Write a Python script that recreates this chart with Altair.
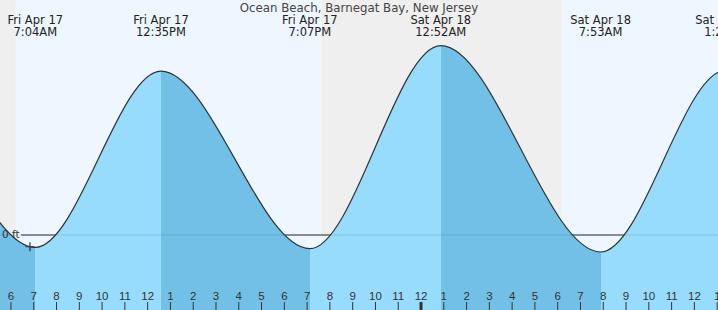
import altair as alt
import pandas as pd

TITLE = "Ocean Beach, Barnegat Bay, New Jersey"

# Tide extremes (day offset from Fri Apr 17, local time, height in ft)
ext_day = [-1, 0, 0, 0, 0, 1, 1, 1, 1]
ext_time = ["6:06PM", "12:12AM", "7:04AM", "12:35PM", "7:07PM", "12:52AM", "7:53AM", "1:22PM", "8:00PM"]
ext_ft = [-0.20, 2.72, -0.19, 2.51, -0.21, 2.90, -0.26, 2.52, -0.15]
ext_date = ["", "", "Fri Apr 17", "Fri Apr 17", "Fri Apr 17", "Sat Apr 18", "Sat Apr 18", "Sat Apr 18", ""]

# Day / night shading
shade_kind = ["night", "day", "night", "day"]
shade_start = [(0, "5:00AM"), (0, "6:13AM"), (0, "7:37PM"), (1, "6:12AM")]
shade_end = [(0, "6:13AM"), (0, "7:37PM"), (1, "6:12AM"), (1, "2:00PM")]

# Current-time marker
now_day, now_time, now_ft = 0, "6:50AM", -0.18

# Hour ticks along the bottom
tick_hours = list(range(6, 38))
tick_labels = [str((h - 1) % 12 + 1) for h in tick_hours]

NIGHT = "#efefef"
DAY = "#eef7ff"
RISE = "#97dcfd"
FALL = "#72c0e5"
INK = "#333333"
FONT = "DejaVu Sans"

W, H = 718, 310
X0, X1 = 5.518, 5.518 + W / 22.78
YMIN, YMAX = -75 / 65.3, 235 / 65.3


def to_h(day, t):
    hm, ap = t[:-2], t[-2:]
    hh, mm = map(int, hm.split(":"))
    hh = hh % 12 + (12 if ap == "PM" else 0)
    return day * 24 + hh + mm / 60


ext_h = [to_h(d, t) for d, t in zip(ext_day, ext_time)]
tide = pd.DataFrame({"h": ext_h, "ft": ext_ft})
events = pd.DataFrame({"h": ext_h, "date": ext_date, "time": ext_time})
events = events[events["date"] != ""]

shade = pd.DataFrame({
    "s": [to_h(d, t) for d, t in shade_start],
    "e": [to_h(d, t) for d, t in shade_end],
    "kind": shade_kind,
})

ticks = pd.DataFrame({
    "h": tick_hours,
    "lab": tick_labels,
    "w": [3 if h % 24 == 0 else 1 for h in tick_hours],
})

# gradient with hard stops: rising = light, falling = darker
hmin, hmax = ext_h[0], ext_h[-1]
stops = []
for i in range(len(ext_h) - 1):
    col = RISE if ext_ft[i + 1] > ext_ft[i] else FALL
    stops.append(alt.GradientStop(color=col, offset=(ext_h[i] - hmin) / (hmax - hmin)))
    stops.append(alt.GradientStop(color=col, offset=(ext_h[i + 1] - hmin) / (hmax - hmin)))
grad = alt.LinearGradient(gradient="linear", stops=stops, x1=0, x2=1, y1=0, y2=0)

xs = alt.Scale(domain=[X0, X1], nice=False, zero=False)
ys = alt.Scale(domain=[YMIN, YMAX], nice=False, zero=False)

bg = alt.Chart(shade).mark_rect(clip=True).encode(
    x=alt.X("s:Q", scale=xs, axis=None),
    x2="e:Q",
    y=alt.value(0),
    y2=alt.value(H),
    color=alt.Color("kind:N", scale=alt.Scale(domain=["night", "day"], range=[NIGHT, DAY]), legend=None),
)

zero = pd.DataFrame({"z": [0.0], "lab": ["0 ft"]})
zero_dark = alt.Chart(zero).mark_rule(color=INK, strokeWidth=1).encode(
    y=alt.Y("z:Q", scale=ys, axis=None), x=alt.value(21), x2=alt.value(W)
)

area = alt.Chart(tide).mark_area(interpolate="monotone", fill=grad, clip=True).encode(
    x=alt.X("h:Q", scale=xs, axis=None),
    y=alt.Y("ft:Q", scale=ys, axis=None),
    y2=alt.datum(YMIN),
)

zero_light = alt.Chart(zero).mark_rule(color="#000000", opacity=0.1, strokeWidth=1).encode(
    y=alt.Y("z:Q", scale=ys, axis=None), x=alt.value(0), x2=alt.value(W)
)

line = alt.Chart(tide).mark_line(interpolate="monotone", color=INK, strokeWidth=1.2, clip=True).encode(
    x=alt.X("h:Q", scale=xs, axis=None),
    y=alt.Y("ft:Q", scale=ys, axis=None),
)

now = pd.DataFrame({"h": [to_h(now_day, now_time)], "ft": [now_ft]})
cross = alt.Chart(now).mark_point(
    shape="M -1 0 L 1 0 M 0 -1 L 0 1", size=81, filled=False, stroke=INK, strokeWidth=1.2, opacity=1
).encode(x=alt.X("h:Q", scale=xs, axis=None), y=alt.Y("ft:Q", scale=ys, axis=None))

zero_text = alt.Chart(zero).mark_text(
    align="left", baseline="middle", font=FONT, fontSize=10.5, color=INK
).encode(y=alt.Y("z:Q", scale=ys, axis=None), x=alt.value(2), text="lab:N")

title = alt.Chart(pd.DataFrame({"t": [TITLE]})).mark_text(
    align="center", baseline="alphabetic", font=FONT, fontSize=11.8, color="#444444"
).encode(x=alt.value(W / 2), y=alt.value(12), text="t:N")

ev1 = alt.Chart(events).mark_text(
    align="center", baseline="alphabetic", font=FONT, fontSize=11.5, color="#222222"
).encode(x=alt.X("h:Q", scale=xs, axis=None), y=alt.value(24), text="date:N")

ev2 = alt.Chart(events).mark_text(
    align="center", baseline="alphabetic", font=FONT, fontSize=11.5, color="#222222"
).encode(x=alt.X("h:Q", scale=xs, axis=None), y=alt.value(36), text="time:N")

tick_rules = alt.Chart(ticks).mark_rule(color=INK).encode(
    x=alt.X("h:Q", scale=xs, axis=None),
    y=alt.value(302),
    y2=alt.value(H),
    strokeWidth=alt.StrokeWidth("w:Q", scale=None),
)

tick_text = alt.Chart(ticks).mark_text(
    align="center", baseline="alphabetic", font="Liberation Sans", fontSize=11.5, color=INK
).encode(x=alt.X("h:Q", scale=xs, axis=None), y=alt.value(300), text="lab:N")

chart = alt.layer(
    bg, zero_dark, area, zero_light, line, cross, zero_text, title, ev1, ev2, tick_rules, tick_text
).properties(width=W, height=H, autosize="none", padding=0).configure_view(stroke=None)

chart.save("out.html", embed_options={"renderer": "svg", "actions": False})
